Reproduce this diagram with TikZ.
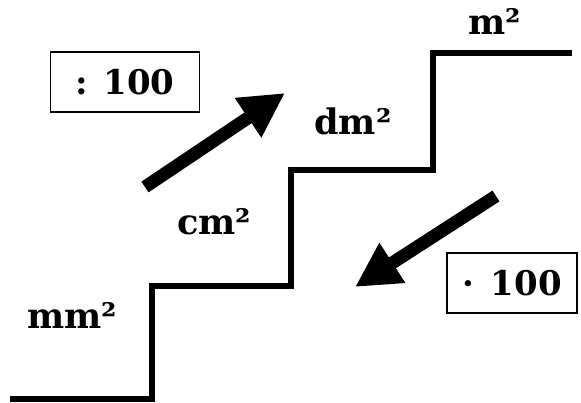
\documentclass[tikz,border=0pt]{standalone}
\usepackage{fontspec}
\setmainfont{DejaVu Serif}
\usetikzlibrary{arrows.meta}

\begin{document}
\begin{tikzpicture}[x=0.03cm, y=-0.03cm,
  unit/.style={font=\fontsize{30}{36}\selectfont\bfseries, anchor=base, inner sep=0pt},
  factor/.style={draw, line width=1.2pt, font=\fontsize{29}{34}\selectfont\bfseries, minimum width=#1, minimum height=1.8cm},
  stair/.style={line width=4.3pt},
  bigarr/.style={line width=11pt, -{Triangle[length=38pt, width=38pt]}}
]
\useasboundingbox (0,0) rectangle (581,403);

% Staircase
\draw[stair] (10,399) -- (152,399) -- (152,286) -- (291,286) -- (291,170)
  -- (433,170) -- (433,53) -- (572,53);

% Units on the steps
\node[unit] (mm) at (72,329) {mm²};
\node[unit] (cm) at (214,235) {cm²};
\node[unit] (dm) at (353,135) {dm²};
\node[unit] (m) at (495,35) {m²};

% Conversion factors
\node[factor=4.47cm] (div) at (125,82) {: 100};
\node[factor=3.9cm] (mul) at (512,283) {·\enspace 100};

% Arrows
\coordinate (upfrom) at (145,187);
\coordinate (upto) at (285,93);
\coordinate (downfrom) at (496,196);
\coordinate (downto) at (355,287);
\draw[bigarr] (upfrom) -- (upto);
\draw[bigarr] (downfrom) -- (downto);
\end{tikzpicture}
\end{document}
